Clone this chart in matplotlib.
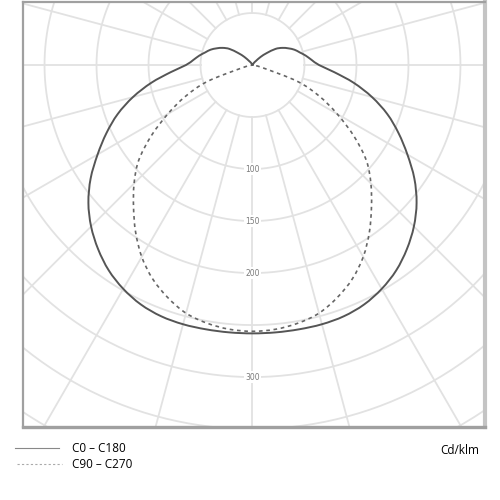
"""Polar luminous intensity diagram (cd/klm), C0-C180 and C90-C270 planes."""
import matplotlib
matplotlib.use("Agg")
import matplotlib.pyplot as plt
from matplotlib.path import Path
from matplotlib.patches import PathPatch
import numpy as np

# gamma angle (deg, 0 = straight down) and intensities in cd/klm
GAMMA = [0, 5, 10, 15, 20, 25, 30, 35, 40, 45, 50, 55, 60, 65, 70, 75, 80, 85, 90,
         95, 100, 105, 110, 115, 120, 125, 130, 135, 140, 145, 150, 155, 160, 165,
         170, 175, 180]
C0_C180 = [258, 258, 258, 258, 257, 254, 248.5, 241, 231, 219.5, 206, 190, 172, 155,
           138, 119, 99, 79, 64, 57, 52, 47, 43, 38, 33, 27, 18, 11, 5, 3, 1, 0, 0,
           0, 0, 0, 0]
C90_C270 = [256, 255, 252, 247, 238, 227, 213, 196, 178, 161, 143, 119, 94, 71, 46,
            10, 0, 0, 0, 0, 0, 0, 0, 0, 0, 0, 0, 0, 0, 0, 0, 0, 0, 0,
            0, 0, 0]

RING_LABELS = [100, 150, 200, 300]
RINGS = list(range(50, 501, 50))
SPOKES = list(range(0, 360, 15))

GRID = "#e2e2e2"


def to_xy(gamma_deg, values):
    g = np.radians(np.asarray(gamma_deg, dtype=float))
    r = np.asarray(values, dtype=float)
    # mirror to get the full plane (left and right halves)
    x = np.concatenate([-(r * np.sin(g))[::-1], (r * np.sin(g))[1:]])
    y = np.concatenate([(-r * np.cos(g))[::-1], (-r * np.cos(g))[1:]])
    return x, y


def smooth_path(x, y):
    """Cubic Bezier path through the points (Catmull-Rom handles)."""
    pts = np.column_stack([x, y])
    verts = [pts[0]]
    codes = [Path.MOVETO]
    n = len(pts)
    for i in range(n - 1):
        p0 = pts[max(i - 1, 0)]
        p1 = pts[i]
        p2 = pts[i + 1]
        p3 = pts[min(i + 2, n - 1)]
        verts += [p1 + (p2 - p0) / 6.0, p2 - (p3 - p1) / 6.0, p2]
        codes += [Path.CURVE4] * 3
    return Path(verts, codes)


fig = plt.figure(figsize=(5, 5), dpi=100)
ax = fig.add_axes([0.046, 0.146, 0.924, 0.85])

# grid: rings and spokes
t = np.linspace(0, 2 * np.pi, 400)
for r in RINGS:
    ax.plot(r * np.cos(t), r * np.sin(t), color=GRID, lw=1.3, zorder=1)
for a in SPOKES:
    ar = np.radians(a)
    ax.plot([50 * np.sin(ar), 600 * np.sin(ar)],
            [-50 * np.cos(ar), -600 * np.cos(ar)],
            color=GRID, lw=1.3, zorder=1)

for r in RING_LABELS:
    ax.text(0, -r, str(r), ha="center", va="center", fontsize=5.5,
            color="#7a7a7a", zorder=2,
            bbox=dict(boxstyle="square,pad=0.15", facecolor="white",
                      edgecolor="none"))

x0, y0 = to_xy(GAMMA, C0_C180)
x90, y90 = to_xy(GAMMA, C90_C270)
ax.add_patch(PathPatch(smooth_path(x0, y0), facecolor="none",
                       edgecolor="#555555", lw=1.4, zorder=4))
ax.add_patch(PathPatch(smooth_path(x90, y90), facecolor="none",
                       edgecolor="#666666", lw=1.2, ls=(0, (2.2, 2.2)), zorder=3))

ax.set_xlim(-220.7, 223.6)
ax.set_ylim(-348, 60.6)
ax.set_xticks([])
ax.set_yticks([])
for side, sp in ax.spines.items():
    sp.set_color("#a0a0a0")
    sp.set_linewidth(1.6)
ax.spines["right"].set_color("#c4c4c4")
ax.spines["right"].set_linewidth(3)
ax.spines["bottom"].set_linewidth(2.4)

# legend below the diagram
font = ["Open Sans", "DejaVu Sans"]
fig.add_artist(plt.Line2D([0.03, 0.118], [0.104, 0.104], color="#888888", lw=0.8))
fig.add_artist(plt.Line2D([0.034, 0.124], [0.072, 0.072], color="#aaaaaa", lw=0.8,
                          ls=(0, (2, 2))))
fig.text(0.145, 0.104, "C0 – C180", fontsize=8.5, va="center", family=font)
fig.text(0.145, 0.072, "C90 – C270", fontsize=8.5, va="center", family=font)
fig.text(0.958, 0.099, "Cd/klm", fontsize=8.5, va="center", ha="right", family=font)

fig.savefig("out.png", dpi=100)
